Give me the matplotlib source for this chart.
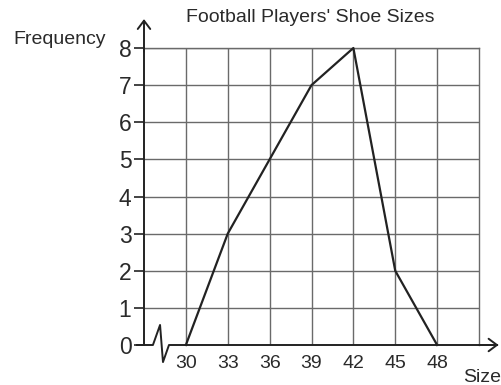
import matplotlib.pyplot as plt

plt.rcParams['font.family'] = ['Liberation Sans', 'DejaVu Sans']

sizes = [30, 33, 36, 39, 42, 45, 48]
freq = [0, 3, 5, 7, 8, 2, 0]
y_ticks = [0, 1, 2, 3, 4, 5, 6, 7, 8]

fig = plt.figure(figsize=(5.01, 3.85), dpi=100)
ax = fig.add_axes([144 / 501, 40 / 385, 335 / 501, 297 / 385])
ax.set_xlim(27, 51)
ax.set_ylim(0, 8)

# grid
grid_c = '#6a6a6a'
ax.vlines(sizes, 0, 8, color=grid_c, lw=1.0)
ax.hlines(y_ticks[1:], 27, 51, color=grid_c, lw=1.0)
for s in ['top', 'right']:
    ax.spines[s].set_color(grid_c)
    ax.spines[s].set_linewidth(1.0)
ax.spines['bottom'].set_visible(False)
ax.spines['left'].set_color('#222222')
ax.spines['left'].set_linewidth(1.4)

# polygon
ax.plot(sizes, freq, color='#222222', lw=1.6, clip_on=False, zorder=5)

# x axis with break zigzag near the origin
zx = [26.5, 27.64, 28.15, 28.36, 28.79, 52.3]
zy = [0, 0, 0.54, -0.46, 0.0, 0]
ax.plot(zx, zy, color='#222222', lw=1.4, clip_on=False, zorder=6)

# arrow heads
ax.annotate('', xy=(27, 8.78), xytext=(27, 7.9), annotation_clip=False,
            arrowprops=dict(arrowstyle='->,head_length=0.6,head_width=0.45',
                            color='#222222', lw=1.4, shrinkA=0, shrinkB=0))
ax.annotate('', xy=(52.4, 0), xytext=(51, 0), annotation_clip=False,
            arrowprops=dict(arrowstyle='->,head_length=0.6,head_width=0.45',
                            color='#222222', lw=1.4, shrinkA=0, shrinkB=0))

ax.set_yticks(y_ticks)
ax.set_yticklabels([str(v) for v in y_ticks], fontsize=16.5, color='#2a2a2a')
ax.tick_params(axis='y', length=7, width=1.2, color='#222222', pad=2)
ax.set_xticks(sizes)
ax.set_xticklabels([str(v) for v in sizes], fontsize=14, color='#2a2a2a')
ax.tick_params(axis='x', length=0, pad=7)

fig.text(310 / 501, 1 - 17 / 385, "Football Players' Shoe Sizes", ha='center',
         va='center', fontsize=14, color='#2a2a2a')
fig.text(60 / 501, 1 - 39 / 385, 'Frequency', ha='center', va='center',
         fontsize=14, color='#2a2a2a')
fig.text(482 / 501, 1 - 377 / 385, 'Size', ha='center', va='center',
         fontsize=14, color='#2a2a2a')

fig.savefig('out.png', dpi=100)
